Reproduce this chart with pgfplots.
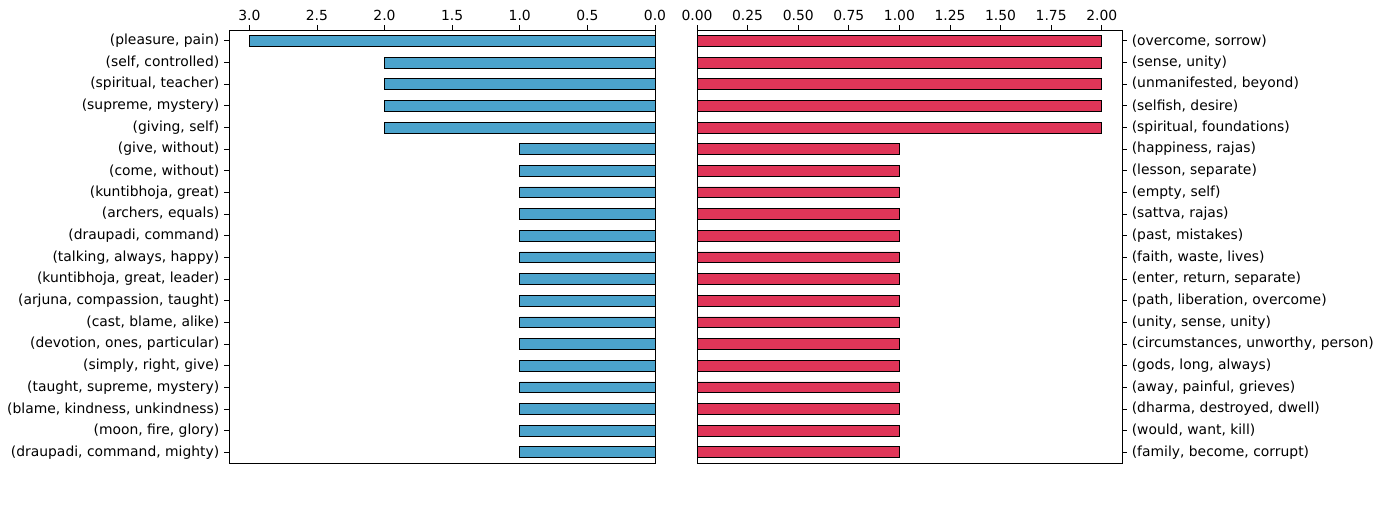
\documentclass[border=0pt]{standalone}
\usepackage{pgfplots}
\pgfplotsset{compat=1.18}
\usepackage{fontspec}
\setmainfont{DejaVu Sans}
\definecolor{tblue}{RGB}{75,163,204}
\definecolor{sred}{RGB}{224,53,88}
\begin{document}
\begin{tikzpicture}
\path[use as bounding box] (-164.9pt,-29.5pt) rectangle (828.7pt,333.4pt);
\pgfplotsset{every axis/.style={scale only axis, height=311.8pt, y dir=reverse,
  ymin=-0.5, ymax=19.5, ytick={0,...,19}, tick align=outside, xtick pos=right, xticklabel pos=right,
  font=\fontsize{10}{12}\selectfont, /pgf/number format/assume math mode=true,
  /pgf/number format/fixed, /pgf/number format/fixed zerofill,
  major tick length=3.5pt, tick style={black, line width=0.6pt}, axis line style={line width=0.6pt},
  xbar, bar width=0.5, bar shift=0pt}}
\begin{axis}[at={(0,0)}, anchor=south west, width=306.7pt, x dir=reverse, xmin=0, xmax=3.15,
  xtick={0,0.5,...,3.0}, /pgf/number format/precision=1, ytick pos=left,
  yticklabels={{(pleasure, pain)},{(self, controlled)},{(spiritual, teacher)},{(supreme, mystery)},{(giving, self)},{(give, without)},{(come, without)},{(kuntibhoja, great)},{(archers, equals)},{(draupadi, command)},{(talking, always, happy)},{(kuntibhoja, great, leader)},{(arjuna, compassion, taught)},{(cast, blame, alike)},{(devotion, ones, particular)},{(simply, right, give)},{(taught, supreme, mystery)},{(blame, kindness, unkindness)},{(moon, fire, glory)},{(draupadi, command, mighty)}}]
\addplot[fill=tblue, draw=black, line width=0.5pt] coordinates {(3,0)(2,1)(2,2)(2,3)(2,4)(1,5)(1,6)(1,7)(1,8)(1,9)(1,10)(1,11)(1,12)(1,13)(1,14)(1,15)(1,16)(1,17)(1,18)(1,19)};
\node at (rel axis cs:0.5,0) [yshift=-18.7pt] {Thankful sentiment};
\end{axis}
\begin{axis}[at={(336.96pt,0)}, anchor=south west, width=306pt, xmin=0, xmax=2.1,
  xtick={0,0.25,...,2.0}, /pgf/number format/precision=2, ytick pos=right, yticklabel pos=right,
  yticklabels={{(overcome, sorrow)},{(sense, unity)},{(unmanifested, beyond)},{(selfish, desire)},{(spiritual, foundations)},{(happiness, rajas)},{(lesson, separate)},{(empty, self)},{(sattva, rajas)},{(past, mistakes)},{(faith, waste, lives)},{(enter, return, separate)},{(path, liberation, overcome)},{(unity, sense, unity)},{(circumstances, unworthy, person)},{(gods, long, always)},{(away, painful, grieves)},{(dharma, destroyed, dwell)},{(would, want, kill)},{(family, become, corrupt)}}]
\addplot[fill=sred, draw=black, line width=0.5pt] coordinates {(2,0)(2,1)(2,2)(2,3)(2,4)(1,5)(1,6)(1,7)(1,8)(1,9)(1,10)(1,11)(1,12)(1,13)(1,14)(1,15)(1,16)(1,17)(1,18)(1,19)};
\node at (rel axis cs:0.5,0) [yshift=-18.7pt] {Sad sentiment};
\end{axis}
\end{tikzpicture}
\end{document}
